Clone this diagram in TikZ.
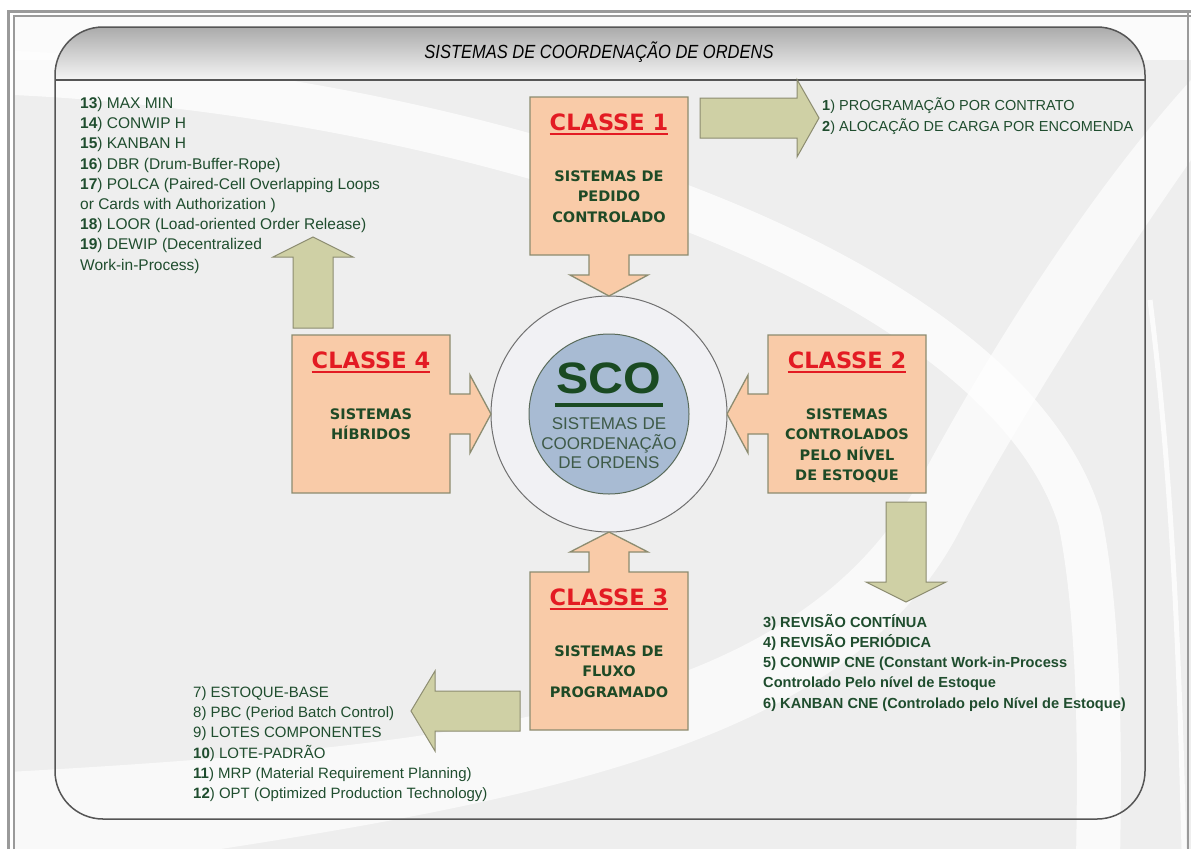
\documentclass[tikz,border=0pt]{standalone}
\usepackage{fontspec}
\usepackage{graphicx}
\setmainfont{Liberation Sans}
\newfontfamily\dejavu{DejaVu Sans}
\usetikzlibrary{calc}
\definecolor{bggray}{HTML}{EEEEEE}
\definecolor{framegray}{HTML}{9A9A9A}
\definecolor{rrline}{HTML}{555555}
\definecolor{peach}{HTML}{F9CBA8}
\definecolor{boxline}{HTML}{8C8C70}
\definecolor{olive}{HTML}{CFD0A5}
\definecolor{cred}{HTML}{E31B23}
\definecolor{dkgreen}{HTML}{1E4A26}
\definecolor{listgreen}{HTML}{1F4D2E}
\definecolor{scoblue}{HTML}{A8BBD3}
\definecolor{innerline}{HTML}{5A6B5A}
\definecolor{outerfill}{HTML}{F1F1F4}
\definecolor{outerline}{HTML}{707070}
\definecolor{scogreen}{HTML}{1A4A22}
\definecolor{scosmall}{HTML}{3E5A48}
\begin{document}
\begin{tikzpicture}[x=1pt,y=-1pt,
  boxshape/.style={fill=peach, draw=boxline, line width=1.3pt, line join=miter},
  olivearrow/.style={fill=olive, draw=boxline, line width=1pt},
  clabel/.style={font=\dejavu\bfseries\fontsize{22.5}{26}\selectfont, text=cred, inner sep=0pt, anchor=base},
  cbody/.style={font=\dejavu\bfseries\fontsize{14.5}{20.5}\selectfont, text=dkgreen, align=center, inner sep=0pt, anchor=base},
  boxnode/.style={minimum size=158pt, inner sep=0pt},
  listtext/.style={font=\fontsize{15.5}{20.2}\selectfont, text=listgreen, align=left, inner sep=0pt, anchor=base west},
  swoosh/.style={fill=white, opacity=0.7},
]
\useasboundingbox (0,0) rectangle (1191,849);
\fill[white] (0,0) rectangle (1191,849);
\fill[bggray] (14,16) rectangle (1191,849);
% background swooshes
\begin{scope}
\clip (14,16) rectangle (1191,849);
\fill[white, opacity=0.8] (8,16) rectangle (1191,60);
\draw[white, opacity=0.75, line width=44pt] (-10,72) .. controls (450,88) and (1000,260) .. (1080,520) .. controls (1100,620) and (1100,750) .. (1098,860);
\fill[swoosh] (8,772) .. controls (500,745) and (800,700) .. (920,480)
  .. controls (1000,330) and (1100,180) .. (1191,80)
  -- (1191,160) .. controls (1100,290) and (1020,420) .. (965,520)
  .. controls (850,760) and (500,810) .. (8,880) -- cycle;
\draw[white, line width=5pt, opacity=0.8] (1150,300) .. controls (1175,500) and (1180,700) .. (1184,849);
\end{scope}
% outer frame
\draw[framegray, line width=2.6pt] (8.6,849) -- (8.6,11.3) -- (1191,11.3);
\draw[framegray, line width=2pt] (13.7,849) -- (13.7,15.8) -- (1191,15.8);
\draw[framegray, line width=2.5pt] (1188,11) -- (1188,849);
% main rounded frame with header
\begin{scope}
\clip[rounded corners=48pt] (55,27) rectangle (1145,819);
\shade[top color=black!33, bottom color=white!96!black] (55,27) rectangle (1145,80);
\end{scope}
\draw[rrline, line width=1.5pt, rounded corners=48pt] (55,27) rectangle (1145,819);
\draw[rrline, line width=1.2pt] (55,80) -- (1145,80);
\node[inner sep=0pt, font=\fontsize{17}{20}\selectfont\itshape] (title) at (599,52) {\scalebox{0.97}[1.12]{SISTEMAS DE COORDENAÇÃO DE ORDENS}};

% central circles
\node[circle, fill=outerfill, draw=outerline, line width=1pt, minimum size=236pt, inner sep=0pt] (outer) at (609,414) {};
\node[circle, fill=scoblue, draw=innerline, line width=1pt, minimum size=160pt, inner sep=0pt] (sco) at (609,414) {};
\node[inner sep=0pt, anchor=base, text=scogreen, font=\bfseries\fontsize{44}{48}\selectfont] (scot) at (609,393) {\scalebox{1.1}[1]{SCO}};
\draw[scogreen, line width=4.5pt] (555,405) -- (663,405);
\node[inner sep=0pt, anchor=base, align=center, text=scosmall, font=\fontsize{17}{19.7}\selectfont] (scosub) at (609,468.8) {SISTEMAS DE\\COORDENAÇÃO\\DE ORDENS};

% class boxes with their arrows towards the circle
\draw[boxshape] (530,97) -- (688,97) -- (688,255) -- (629,255) -- (629,275) -- (648,275) -- (609,296) -- (570,275) -- (589,275) -- (589,255) -- (530,255) -- cycle;
\draw[boxshape] (768,335) -- (926,335) -- (926,493) -- (768,493) -- (768,434) -- (748,434) -- (748,453) -- (727,414) -- (748,375) -- (748,394) -- (768,394) -- cycle;
\draw[boxshape] (530,572) -- (589,572) -- (589,552) -- (570,552) -- (609,532) -- (648,552) -- (629,552) -- (629,572) -- (688,572) -- (688,730) -- (530,730) -- cycle;
\draw[boxshape] (292,335) -- (450,335) -- (450,394) -- (470,394) -- (470,375) -- (491,414) -- (470,453) -- (470,434) -- (450,434) -- (450,493) -- (292,493) -- cycle;
\node[boxnode] (c1) at (609,176) {};
\node[boxnode] (c2) at (847,414) {};
\node[boxnode] (c3) at (609,651) {};
\node[boxnode] (c4) at (371,414) {};

\node[clabel] (l1) at (609,130) {CLASSE 1};
\node[clabel] (l2) at (847,368) {CLASSE 2};
\node[clabel] (l3) at (609,605) {CLASSE 3};
\node[clabel] (l4) at (371,368) {CLASSE 4};
\foreach \n in {l1,l2,l3,l4}{
  \draw[cred, line width=2.2pt] ($(\n.base west)+(0,3.8)$) -- ($(\n.base east)+(0,3.8)$);
}
\node[cbody] (b1) at (609,222.3) {SISTEMAS DE\\PEDIDO\\CONTROLADO};
\node[cbody] (b2) at (847,480.8) {SISTEMAS\\CONTROLADOS\\PELO NÍVEL\\DE ESTOQUE};
\node[cbody] (b3) at (609,697.3) {SISTEMAS DE\\FLUXO\\PROGRAMADO};
\node[cbody] (b4) at (371,439.8) {SISTEMAS\\HÍBRIDOS};

% olive arrows to the lists
\draw[olivearrow] (700,98) -- (797,98) -- (797,79.5) -- (819,118) -- (797,157) -- (797,138) -- (700,138) -- cycle;
\draw[olivearrow] (293,328) -- (293,257) -- (273,257) -- (313,237) -- (353,257) -- (333,257) -- (333,328) -- cycle;
\draw[olivearrow] (886,502) -- (926,502) -- (926,582) -- (946,582) -- (906,602) -- (866,582) -- (886,582) -- cycle;
\draw[olivearrow] (520,691) -- (520,731) -- (435,731) -- (435,751) -- (411,711) -- (435,671) -- (435,691) -- cycle;

% lists
\node[listtext, font=\fontsize{14.5}{21}\selectfont] (list1) at (822,131.2) {\textbf{1}) PROGRAMAÇÃO POR CONTRATO\\\textbf{2}) ALOCAÇÃO DE CARGA POR ENCOMENDA};
\node[listtext, font=\bfseries\fontsize{14.6}{20.2}\selectfont] (list2) at (763,708.1) {3) REVISÃO CONTÍNUA\\4) REVISÃO PERIÓDICA\\5) CONWIP CNE (Constant Work-in-Process\\Controlado Pelo nível de Estoque\\6) KANBAN CNE (Controlado pelo Nível de Estoque)};
\node[listtext, font=\fontsize{15}{20.2}\selectfont] (list3) at (193,798.5) {7) ESTOQUE-BASE\\8) PBC (Period Batch Control)\\9) LOTES COMPONENTES\\\textbf{10}) LOTE-PADRÃO\\\textbf{11}) MRP (Material Requirement Planning)\\\textbf{12}) OPT (Optimized Production Technology)};
\node[listtext] (list4) at (80,270.1) {\textbf{13}) MAX MIN\\\textbf{14}) CONWIP H\\\textbf{15}) KANBAN H\\\textbf{16}) DBR (Drum-Buffer-Rope)\\\textbf{17}) POLCA (Paired-Cell Overlapping Loops\\or Cards with Authorization )\\\textbf{18}) LOOR (Load-oriented Order Release)\\\textbf{19}) DEWIP (Decentralized\\Work-in-Process)};
\end{tikzpicture}
\end{document}
